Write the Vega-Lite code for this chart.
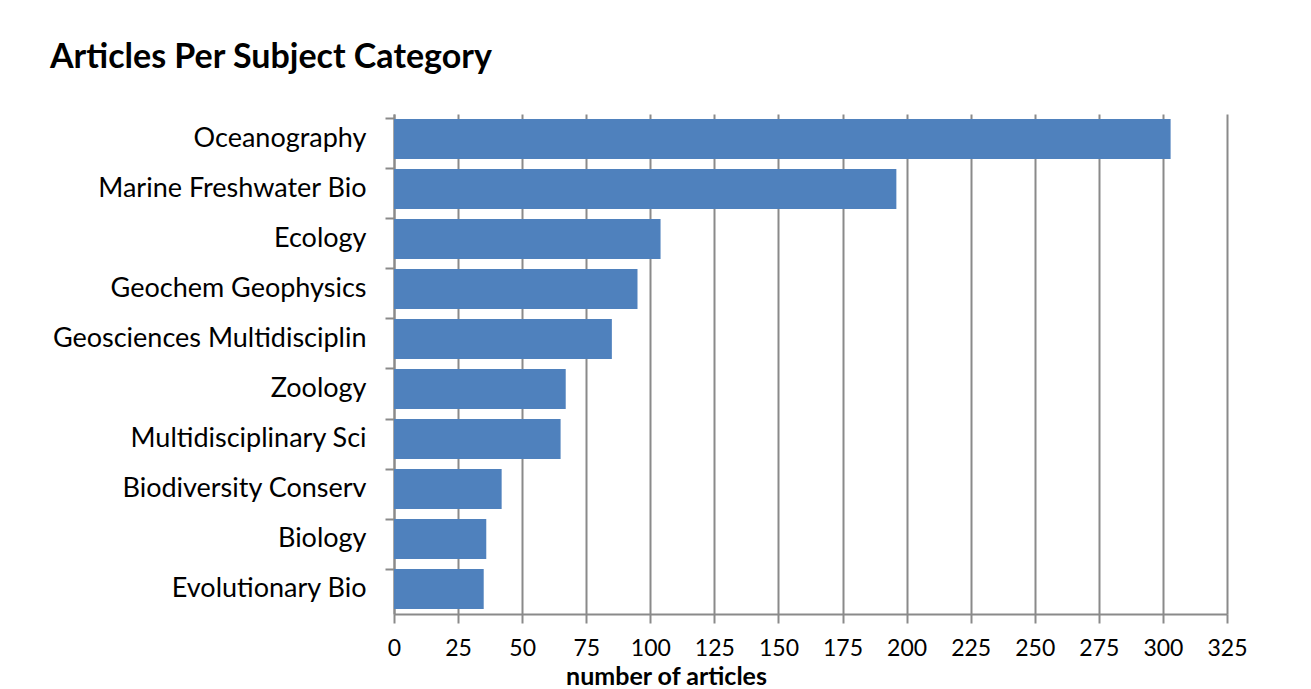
{
  "$schema": "https://vega.github.io/schema/vega-lite/v6.json",
  "width": 833,
  "height": 500,
  "autosize": {"type": "none"},
  "padding": {"left": 394, "top": 114, "right": 84, "bottom": 75},
  "background": "white",
  "title": {
    "text": "Articles Per Subject Category",
    "anchor": "start",
    "frame": "group",
    "dx": -344,
    "offset": 12,
    "baseline": "alphabetic",
    "font": "Lato",
    "fontSize": 34,
    "fontWeight": "bold",
    "color": "black"
  },
  "data": {
    "values": [
      {"category": "Oceanography", "articles": 303},
      {"category": "Marine Freshwater Bio", "articles": 196},
      {"category": "Ecology", "articles": 104},
      {"category": "Geochem Geophysics", "articles": 95},
      {"category": "Geosciences Multidisciplin", "articles": 85},
      {"category": "Zoology", "articles": 67},
      {"category": "Multidisciplinary Sci", "articles": 65},
      {"category": "Biodiversity Conserv", "articles": 42},
      {"category": "Biology", "articles": 36},
      {"category": "Evolutionary Bio", "articles": 35}
    ]
  },
  "mark": {"type": "bar", "color": "#4F81BD"},
  "encoding": {
    "y": {
      "field": "category",
      "type": "nominal",
      "sort": null,
      "scale": {"paddingInner": 0.2, "paddingOuter": 0.1},
      "axis": {
        "title": null,
        "bandPosition": 0,
        "tickSize": 9,
        "tickColor": "#8a8a8a",
        "tickWidth": 2,
        "domainColor": "#8a8a8a",
        "domainWidth": 2,
        "labelPadding": 19,
        "labelFont": "Lato",
        "labelFontSize": 27,
        "labelColor": "black",
        "labelLimit": 400
      }
    },
    "x": {
      "field": "articles",
      "type": "quantitative",
      "scale": {"domain": [0, 325], "nice": false},
      "axis": {
        "title": "number of articles",
        "values": [0, 25, 50, 75, 100, 125, 150, 175, 200, 225, 250, 275, 300, 325],
        "grid": true,
        "gridColor": "#8a8a8a",
        "gridWidth": 2,
        "tickSize": 9,
        "tickColor": "#8a8a8a",
        "tickWidth": 2,
        "domainColor": "#8a8a8a",
        "domainWidth": 2,
        "labelPadding": 14,
        "labelFlush": false,
        "labelOverlap": false,
        "labelFont": "Lato",
        "labelFontSize": 23,
        "labelColor": "black",
        "titleFont": "Lato",
        "titleFontSize": 25,
        "titleFontWeight": "bold",
        "titleColor": "black",
        "titleX": 272,
        "titleY": 70,
        "titleAnchor": "middle",
        "titleBaseline": "alphabetic"
      }
    }
  },
  "config": {"view": {"stroke": null}}
}
